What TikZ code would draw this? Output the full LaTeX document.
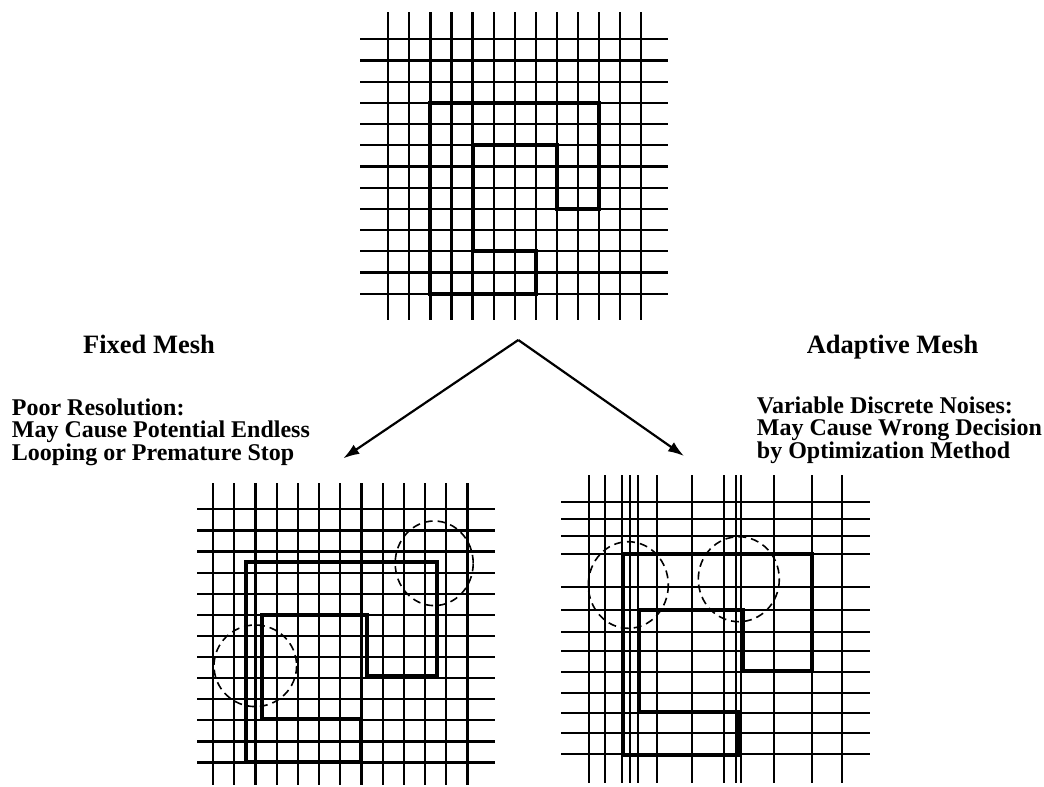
\documentclass[tikz,border=0pt]{standalone}
\usepackage{fontspec}
\setmainfont{Liberation Serif}
\usetikzlibrary{arrows.meta}

\begin{document}
\begin{tikzpicture}[
  x=1pt, y=-1pt,
  gl/.style={line width=2.2pt},
  wall/.style={line width=4pt, line join=miter},
  probe/.style={line width=1.6pt, dash pattern=on 8pt off 5pt},
  a/.style={-{Latex[length=16pt,width=11pt]}, line width=2.2pt},
  hd/.style={font=\bfseries\fontsize{26.5}{28}\selectfont, inner sep=0pt, anchor=base},
  note/.style={font=\bfseries\fontsize{24}{22.5}\selectfont, align=left, inner sep=0pt, anchor=base west}
]
\useasboundingbox (0,0) rectangle (1044,787);

% original mesh (top)
\foreach \i in {0,...,12} {
  \draw[gl] (388.3+21.06*\i,12) -- (388.3+21.06*\i,320);
  \draw[gl] (360,39.3+21.2*\i) -- (668,39.3+21.2*\i);
}
\draw[wall] (430.4,102.9) -- (598.9,102.9) -- (598.9,208.9) -- (556.8,208.9) -- (556.8,145.3)
  -- (472.5,145.3) -- (472.5,251.3) -- (535.7,251.3) -- (535.7,293.7) -- (430.4,293.7) -- cycle;

% fixed mesh (bottom left)
\foreach \i in {0,...,12} {
  \draw[gl] (213+21.2*\i,483) -- (213+21.2*\i,785);
  \draw[gl] (197,509.3+21.1*\i) -- (495,509.3+21.1*\i);
}
\draw[wall] (245.7,561.7) -- (436.7,561.7) -- (436.7,676) -- (366.7,676) -- (366.7,615)
  -- (261.7,615) -- (261.7,719.3) -- (361,719.3) -- (361,761.7) -- (245.7,761.7) -- cycle;
\draw[probe] (434.2,563.3) ellipse [x radius=39, y radius=42.3];
\draw[probe] (255.3,665.8) ellipse [x radius=41.3, y radius=40.8];

% adaptive mesh (bottom right)
\foreach \x in {589,605,622,630,638,657,692,724,736,741,774,812,842}
  \draw[gl] (\x,475) -- (\x,783);
\foreach \y in {502,519,536,554,587,610,632,651,672,693,713,733,754}
  \draw[gl] (561,\y) -- (870,\y);
\draw[wall] (623,553.5) -- (812,553.5) -- (812,671) -- (742.7,671) -- (742.7,609.5)
  -- (639,609.5) -- (639,712) -- (737.5,712) -- (737.5,755) -- (623,755) -- cycle;
\draw[probe] (628.3,585) ellipse [x radius=40, y radius=43.3];
\draw[probe] (738.8,579.2) ellipse [x radius=40.5, y radius=42.5];

% labels (base of a note = its last line)
\node[hd] (fixhd) at (149,353) {Fixed Mesh};
\node[note] (fixnote) at (11.7,460) {Poor Resolution:\\May Cause Potential Endless\\Looping or Premature Stop};
\node[hd] (adhd) at (892.5,353) {Adaptive Mesh};
\node[note] (adnote) at (756.7,458) {Variable Discrete Noises:\\May Cause Wrong Decision\\by Optimization Method};

% arrows
\coordinate (split) at (518.3,340);
\coordinate (fixtip) at (343.3,458.3);
\coordinate (adtip) at (684,456);
\draw[a] (split) -- (fixtip);
\draw[a] (split) -- (adtip);
\end{tikzpicture}
\end{document}
